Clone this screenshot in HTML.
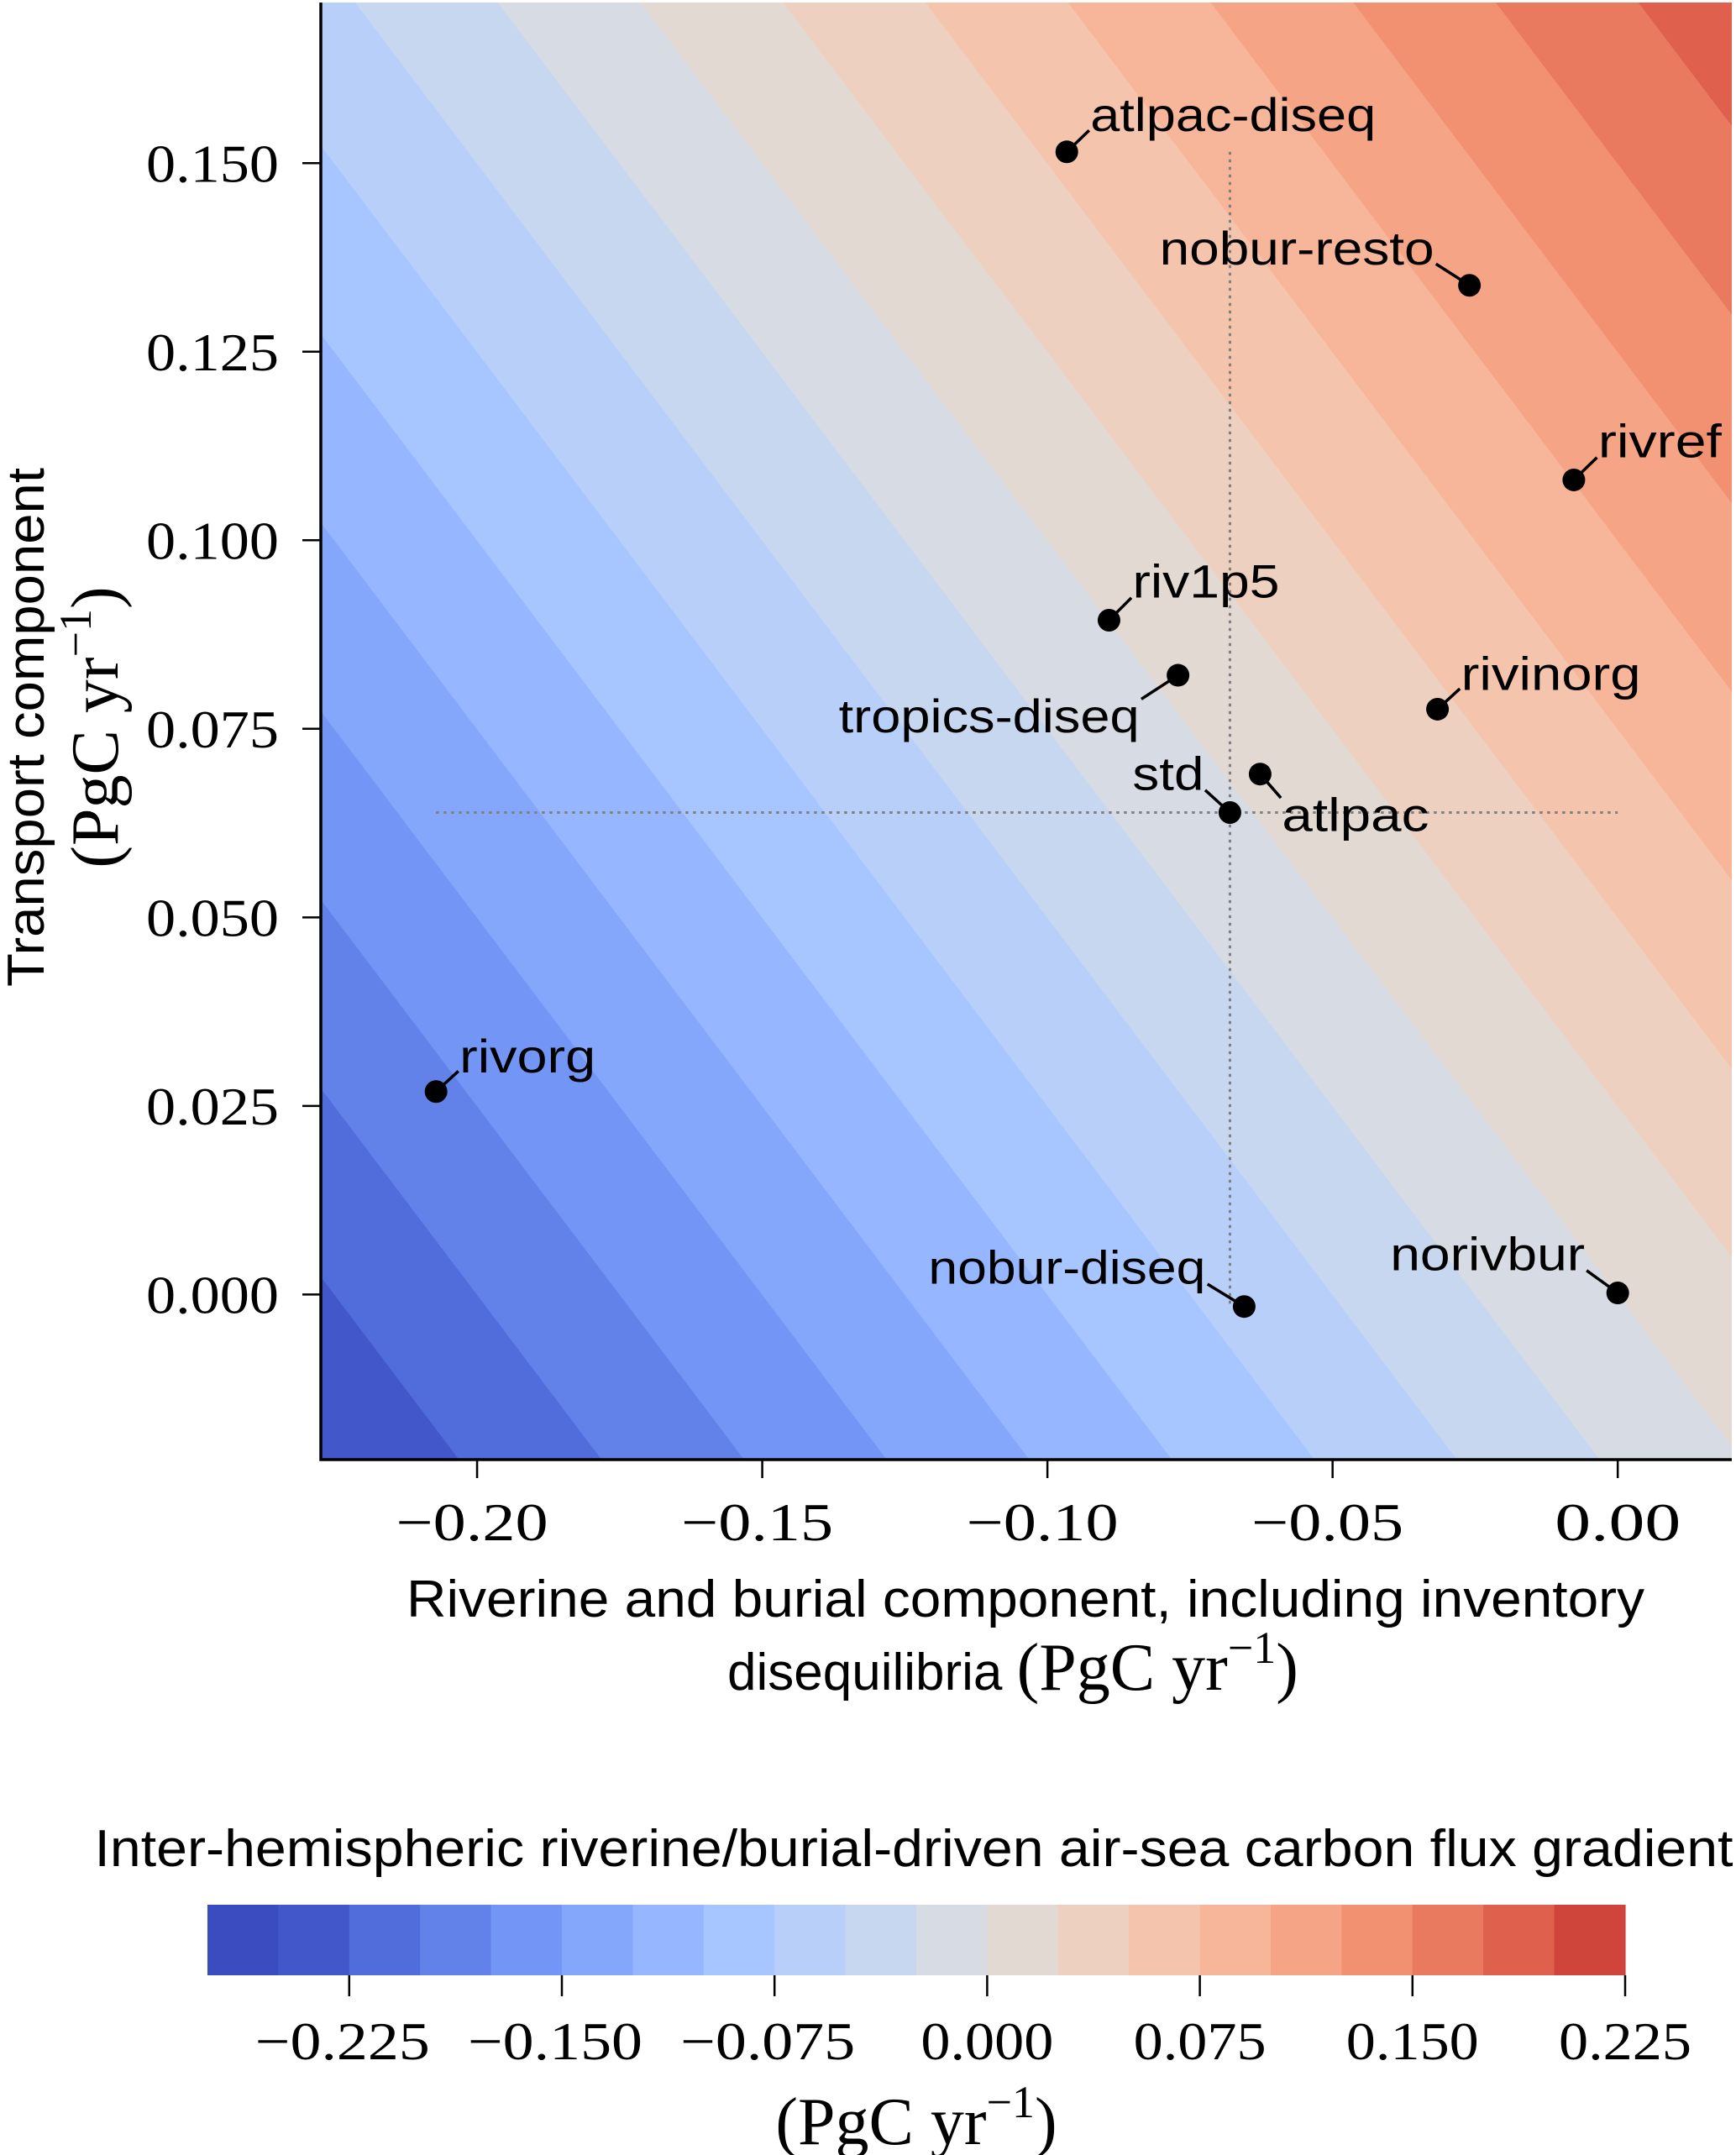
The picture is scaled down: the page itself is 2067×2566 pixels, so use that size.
<!DOCTYPE html>
<html><head><meta charset="utf-8"><style>
html,body{margin:0;padding:0;background:#fff;overflow:hidden;width:2067px;height:2566px;}
svg{display:block;}
.tick{font-family:"Liberation Serif",serif;font-size:64px;fill:#000;}
.lab{font-family:"Liberation Sans",sans-serif;font-size:56px;fill:#000;}
.ax{font-family:"Liberation Sans",sans-serif;font-size:62px;fill:#000;}
</style></head><body>
<svg id="chart" width="2067" height="2566" viewBox="0 0 2067 2566" xmlns="http://www.w3.org/2000/svg">
<defs><clipPath id="pclip"><rect x="382" y="3" width="1680" height="1735"/></clipPath></defs>
<g id="bands" clip-path="url(#pclip)"></g>
<g id="guides"></g>
<g id="points"></g>
<g id="axes"></g>
<g id="cbar"></g>
</svg>
<script>
const names = ["atlpac-diseq","nobur-resto","rivref","riv1p5","tropics-diseq","rivinorg","std","atlpac","rivorg","nobur-diseq","norivbur"];
const xVals = [-0.0966,-0.0260,-0.0077,-0.0892,-0.0771,-0.0316,-0.0680,-0.0627,-0.2072,-0.0655,0.0000];
const yVals = [0.1515,0.1338,0.1080,0.0894,0.0821,0.0776,0.0639,0.0690,0.0269,-0.0016,0.0002];
const xTicks = [-0.20,-0.15,-0.10,-0.05,0.00];
const xTickLabels = ["\u22120.20","\u22120.15","\u22120.10","\u22120.05","0.00"];
const yTicks = [0.000,0.025,0.050,0.075,0.100,0.125,0.150];
const yTickLabels = ["0.000","0.025","0.050","0.075","0.100","0.125","0.150"];
const levels = [-0.275,-0.25,-0.225,-0.2,-0.175,-0.15,-0.125,-0.1,-0.075,-0.05,-0.025,0,0.025,0.05,0.075,0.1,0.125,0.15,0.175,0.2,0.225];
const cbTicks = [-0.225,-0.15,-0.075,0,0.075,0.15,0.225];
const cbTickLabels = ["\u22120.225","\u22120.150","\u22120.075","0.000","0.075","0.150","0.225"];

const NS="http://www.w3.org/2000/svg";
const X0=382,X1=2062,Y0=3,Y1=1738;
const xmin=-0.2274,xmax=0.0200,ymin=-0.0219,ymax=0.1713;
const sx=v=>X0+(v-xmin)/(xmax-xmin)*(X1-X0);
const sy=v=>Y1-(v-ymin)/(ymax-ymin)*(Y1-Y0);
const CW=[[59,76,192],[68,90,204],[77,104,215],[87,117,225],[98,130,234],[108,142,241],[119,154,247],[130,165,251],[141,176,254],[152,185,255],[163,194,255],[174,201,253],[184,208,249],[194,213,244],[204,217,238],[213,219,230],[221,221,221],[229,216,209],[236,211,197],[241,204,184],[245,196,172],[247,187,160],[247,177,148],[247,166,137],[244,154,123],[241,141,112],[236,127,99],[229,112,89],[222,96,77],[213,80,66],[203,62,56],[192,40,47],[180,4,38]];
function cw(t){t=Math.max(0,Math.min(1,t));const p=t*32,i=Math.min(31,Math.floor(p)),f=p-i;const a=CW[i],b=CW[i+1];return `rgb(${a.map((v,k)=>Math.round(v+(b[k]-v)*f)).join(',')})`;}
const bandColor=mid=>cw((mid+0.25)/0.5);
function el(tag,attrs,parent,text){const e=document.createElementNS(NS,tag);for(const k in attrs)e.setAttribute(k,attrs[k]);if(text!==undefined)e.textContent=text;parent.appendChild(e);return e;}
const UNIT='<tspan font-family="Liberation Serif, serif" font-size="80">(PgC yr</tspan><tspan font-family="Liberation Serif, serif" font-size="54" dy="-32">\u22121</tspan><tspan font-family="Liberation Serif, serif" font-size="80" dy="32">)</tspan>';

const gB=document.getElementById('bands');
const xa=xmin-0.5,xb=xmax+0.5;
for(let i=0;i<levels.length-1;i++){
  const lo=levels[i],hi=levels[i+1];
  const pts=[[xa,lo-xa],[xb,lo-xb],[xb,hi-xb],[xa,hi-xa]].map(p=>sx(p[0]).toFixed(1)+','+sy(p[1]).toFixed(1)).join(' ');
  const p=el('polygon',{points:pts,fill:bandColor((lo+hi)/2),stroke:bandColor((lo+hi)/2),'stroke-width':0.8},gB);
  
  
}

const gG=document.getElementById('guides');
const si=names.indexOf('std');
const vg=el('line',{x1:sx(xVals[si]),x2:sx(xVals[si]),y1:sy(Math.max(...yVals)),y2:sy(Math.min(...yVals)),stroke:'#808080','stroke-width':3,'stroke-dasharray':'3.5,5.5'},gG);


const hg=el('line',{x1:sx(Math.min(...xVals)),x2:sx(Math.max(...xVals)),y1:sy(yVals[si]),y2:sy(yVals[si]),stroke:'#808080','stroke-width':3,'stroke-dasharray':'3.5,5.5'},gG);



const offs={"atlpac-diseq":[28,-44,'start',340],"nobur-resto":[-42,-44,'end',327],"rivref":[29,-46,'start',147],"riv1p5":[28,-46,'start',175],"tropics-diseq":[-46,49,'end',358],"rivinorg":[28,-42,'start',214],"std":[-31,-46,'end',85],"atlpac":[26,49,'start',175],"rivorg":[28,-42,'start',162],"nobur-diseq":[-46,-46,'end',330],"norivbur":[-39,-46,'end',232]};
const gP=document.getElementById('points');
names.forEach((n,i)=>{
  const px=sx(xVals[i]),py=sy(yVals[i]);const o=offs[n];
  const ln=el('line',{x1:px,y1:py,x2:px+o[0]*0.95,y2:py+o[1]*0.58,stroke:'#000','stroke-width':3.5},gP);
  
  
  const c=el('circle',{cx:px,cy:py,r:13.5,fill:'#000'},gP);
  
  
  const t=el('text',{x:px+o[0],y:py+o[1]+19,'text-anchor':o[2],class:'lab',textLength:o[3],lengthAdjust:'spacingAndGlyphs'},gP,n);
  
  
});

const gA=document.getElementById('axes');
el('line',{x1:X0,y1:Y0,x2:X0,y2:Y1+1.5,stroke:'#000','stroke-width':3.5},gA);
el('line',{x1:X0-1.5,y1:Y1,x2:X1,y2:Y1,stroke:'#000','stroke-width':3.5},gA);
xTicks.forEach((v,i)=>{
  const x=sx(v);
  const tk=el('line',{x1:x,x2:x,y1:Y1,y2:Y1+22,stroke:'#000','stroke-width':2.5},gA);
  
  
  const t=el('text',{x:x+(v<0?-6:0),y:1834,'text-anchor':'middle',class:'tick',textLength:v<0?181:150,lengthAdjust:'spacingAndGlyphs'},gA,xTickLabels[i]);
  
  
});
yTicks.forEach((v,i)=>{
  const y=sy(v);
  const tk=el('line',{x1:X0-22,x2:X0,y1:y,y2:y,stroke:'#000','stroke-width':2.5},gA);
  
  
  const t=el('text',{x:332,y:y+22,'text-anchor':'end',class:'tick',textLength:158,lengthAdjust:'spacingAndGlyphs'},gA,yTickLabels[i]);
  
  
});
let t=el('text',{x:1221,y:1925,'text-anchor':'middle',class:'ax',textLength:1474,lengthAdjust:'spacingAndGlyphs'},gA,'Riverine and burial component, including inventory');

t=el('text',{x:866,y:2012,class:'ax'},gA);

t.innerHTML='disequilibria '+UNIT;
t=el('text',{x:0,y:0,'text-anchor':'middle',class:'ax',transform:'translate(52,866) rotate(-90)',textLength:618,lengthAdjust:'spacingAndGlyphs'},gA,'Transport component');

t=el('text',{x:0,y:0,'text-anchor':'middle',transform:'translate(140,866) rotate(-90)'},gA);

t.innerHTML=UNIT;

const gC=document.getElementById('cbar');
const CX0=247,CX1=1935,CY0=2268,CY1=2352;
const cx=v=>CX0+(v-levels[0])/(levels[levels.length-1]-levels[0])*(CX1-CX0);
for(let i=0;i<levels.length-1;i++){
  const r=el('rect',{x:cx(levels[i]),y:CY0,width:cx(levels[i+1])-cx(levels[i])+0.6,height:CY1-CY0,fill:bandColor((levels[i]+levels[i+1])/2)},gC);
  
  
}
cbTicks.forEach((v,i)=>{
  const x=cx(v);
  const tk=el('line',{x1:x,x2:x,y1:CY1,y2:CY1+25,stroke:'#000','stroke-width':2.5},gC);
  
  
  const tl=el('text',{x:x+(v<0?-8:0),y:2452,'text-anchor':'middle',class:'tick',textLength:v<0?208:158,lengthAdjust:'spacingAndGlyphs'},gC,cbTickLabels[i]);
  
  
});
t=el('text',{x:1088,y:2222,'text-anchor':'middle',class:'ax',textLength:1951,lengthAdjust:'spacingAndGlyphs'},gC,'Inter-hemispheric riverine/burial-driven air-sea carbon flux gradient');

t=el('text',{x:1091,y:2553,'text-anchor':'middle'},gC);

t.innerHTML=UNIT;
</script>
</body></html>
